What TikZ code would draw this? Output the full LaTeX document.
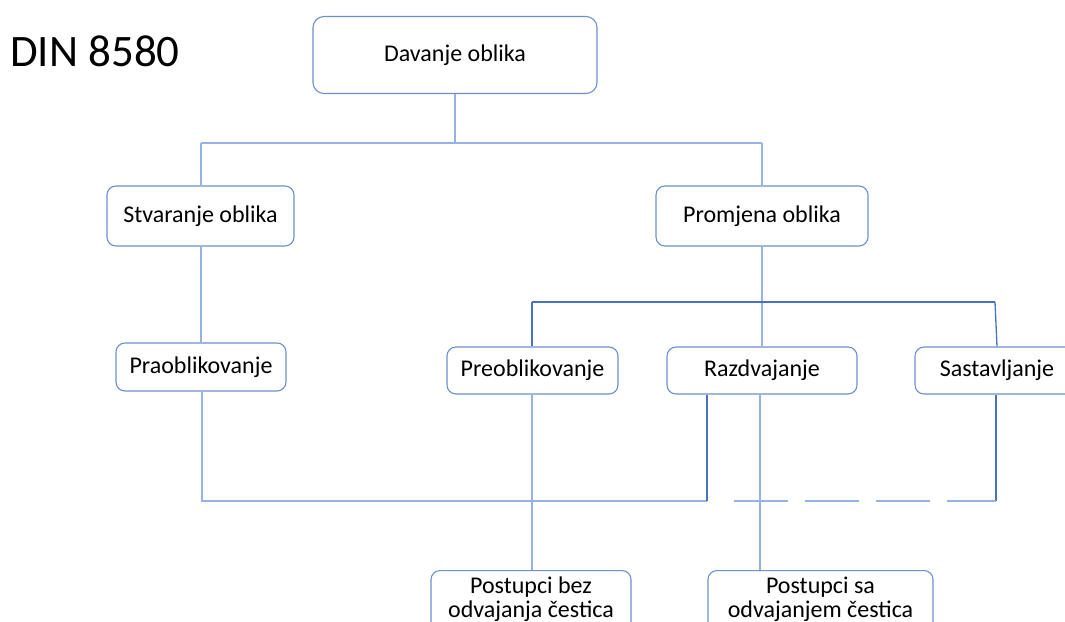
\documentclass[tikz,border=0pt]{standalone}
\usepackage{fontspec}
\setmainfont{Carlito}
\definecolor{boxc}{RGB}{111,143,204}
\definecolor{darkl}{RGB}{76,112,192}
\definecolor{lightl}{RGB}{150,178,228}
\begin{document}
\begin{tikzpicture}[x=1pt,y=-1pt,
  box/.style={draw=boxc, line width=1.1pt, rounded corners=9pt, fill=white, inner sep=0pt,
    font=\fontsize{24}{26}\selectfont, text=black},
  lbl/.style={anchor=base, inner sep=0pt, font=\fontsize{24}{26}\selectfont},
  dl/.style={draw=darkl, line width=1.3pt},
  ll/.style={draw=lightl, line width=1.6pt}]
\useasboundingbox (0,0) rectangle (1065,621);
\clip (0,0) rectangle (1065,621);
\node[box, minimum width=284pt, minimum height=77pt, rounded corners=11pt] (dav) at (455,55) {Davanje oblika};
\node[box, minimum width=187pt, minimum height=60pt] (stv) at (200.5,216) {Stvaranje oblika};
\node[box, minimum width=212pt, minimum height=60pt] (pro) at (762,216) {Promjena oblika};
\node[box, minimum width=170pt, minimum height=48pt] (pra) at (201,367) {Praoblikovanje};
\node[box, minimum width=171pt, minimum height=47pt] (pre) at (532.5,370.5) {Preoblikovanje};
\node[box, minimum width=190pt, minimum height=47pt] (raz) at (762,370.5) {Razdvajanje};
\node[box, minimum width=164pt, minimum height=47pt] (sas) at (997,370.5) {Sastavljanje};
\node[box, minimum width=200pt, minimum height=70pt, anchor=north] (pbez) at (531,570) {};
\node[box, minimum width=225pt, minimum height=70pt, anchor=north] (psa) at (820.5,570) {};
\node[lbl] (pbez1) at (531,593) {Postupci bez};
\node[lbl] (pbez2) at (531,617) {odvajanja čestica};
\node[lbl] (psa1) at (820.5,593) {Postupci sa};
\node[lbl] (psa2) at (820.5,617) {odvajanjem čestica};
\node[anchor=base west, inner sep=0pt, font=\fontsize{45}{48}\selectfont] (din) at (10,66) {DIN 8580};
% coordinates
\coordinate (f1) at (455,143);
\coordinate (f1l) at (201,143);
\coordinate (f1r) at (762,143);
\coordinate (f2l) at (532,302);
\coordinate (f2r) at (995,302);
\coordinate (b1) at (202,501);
\coordinate (b2) at (707,501);
\coordinate (b3) at (996,501);
\coordinate (b4) at (734,501);
% connectors
\draw[ll] (dav.south) -- (f1);
\draw[ll] (f1l) -- (f1r);
\draw[ll] (f1l) -- (stv.north -| f1l);
\draw[ll] (f1r) -- (pro.north);
\draw[ll] (stv.south -| pra.north) -- (pra.north);
\draw[ll] (pro.south) -- (raz.north);
\draw[dl] (f2l) -- (f2r);
\draw[dl] (f2l) -- (pre.north -| f2l);
\draw[dl] (f2r) -- (sas.north -| 997,0);
\draw[ll] (pra.south -| b1) -- (b1) -- (b2);
\draw[dl] (b2) -- (raz.south -| b2);
\draw[dl] (sas.south -| b3) -- (b3);
\draw[ll, dash pattern=on 54pt off 17pt, line width=1.4pt] (b4) -- (b3);
\draw[ll] (pre.south -| f2l) -- (pbez.north -| f2l);
\draw[ll] (raz.south -| 760,0) -- (psa.north -| 760,0);
\end{tikzpicture}
\end{document}
